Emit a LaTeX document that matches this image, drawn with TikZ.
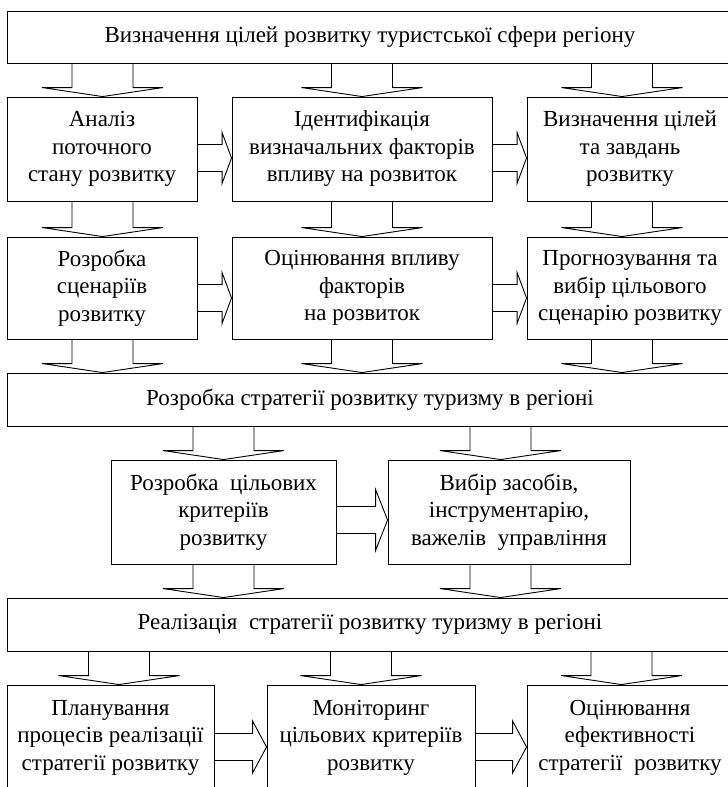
\documentclass[tikz,border=0pt]{standalone}
\usepackage{fontspec}
\setmainfont{Liberation Serif}
\usetikzlibrary{calc}
\tikzset{
  boxnode/.style={draw=black, line width=0.9pt, rectangle, inner sep=0pt, align=center,
    font=\fontsize{23}{27.5}\selectfont},
  blockarrow/.style={draw=black, line width=0.9pt, line join=miter},
}
% #1 name, #2 x1, #3 y1, #4 x2, #5 y2, #6 text
\newcommand\mkbox[6]{%
  \node[boxnode, minimum width={(#4-#2)*1pt}, minimum height={(#5-#3)*1pt}]
    (#1) at ({(#2+#4)/2},{(#3+#5)/2}) {#6};}
% down block arrow: #1 x centre, #2 from node, #3 to node
\newcommand\dnarrow[3]{%
  \draw[blockarrow] let \p1=(#2.south), \p2=(#3.north) in
    ({#1pt-30.5pt},\y1) -- ({#1pt-30.5pt},\y2+9pt) -- ({#1pt-60.5pt},\y2+9pt)
    -- ({#1pt},\y2) -- ({#1pt+60.5pt},\y2+9pt) -- ({#1pt+30.5pt},\y2+9pt)
    -- ({#1pt+30.5pt},\y1);}
% right block arrow: #1 y centre (px from top), #2 from, #3 to, #4 head half, #5 head length
\newcommand\rtarrow[5]{%
  \draw[blockarrow] let \p1=(#2.east), \p2=(#3.west) in
    (\x1,{-#1pt+13.5pt}) -- ({\x2-#5pt},{-#1pt+13.5pt}) -- ({\x2-#5pt},{-#1pt+#4pt})
    -- (\x2,{-#1pt}) -- ({\x2-#5pt},{-#1pt-#4pt}) -- ({\x2-#5pt},{-#1pt-13.5pt})
    -- (\x1,{-#1pt-13.5pt});}
\begin{document}
\begin{tikzpicture}[x=1pt,y=-1pt]
\useasboundingbox (0,0) rectangle (728,787);
\fill[white] (0,0) rectangle (728,787);
\clip (0,0) rectangle (728,787);

\mkbox{top}{7}{11}{733}{63}{Визначення цілей розвитку туристської сфери регіону}
\mkbox{a1}{7}{97}{197}{201}{Аналіз\\поточного\\стану розвитку}
\mkbox{a2}{232}{97}{492}{201}{Ідентифікація\\визначальних факторів\\впливу на розвиток}
\mkbox{a3}{527}{97}{733}{201}{Визначення цілей\\та завдань\\розвитку}
\mkbox{b1}{7}{237}{197}{339}{Розробка\\сценаріїв\\розвитку}
\mkbox{b2}{232}{237}{492}{339}{Оцінювання впливу\\факторів\\на розвиток}
\mkbox{b3}{527}{237}{733}{339}{Прогнозування та\\вибір цільового\\сценарію розвитку}
\mkbox{str}{7}{373}{733}{426}{Розробка стратегії розвитку туризму в регіоні}
\mkbox{c1}{111}{460}{336}{564}{Розробка\ \ цільових\\критеріїв\\розвитку}
\mkbox{c2}{388}{460}{630}{564}{Вибір засобів,\\інструментарію,\\важелів\ \ управління}
\mkbox{real}{7}{598}{733}{651}{Реалізація\ \ стратегії розвитку туризму в регіоні}
\mkbox{d1}{7}{685}{214}{790}{Планування\\процесів реалізації\\стратегії розвитку}
\mkbox{d2}{267}{685}{475}{790}{Моніторинг\\цільових критеріїв\\розвитку}
\mkbox{d3}{527}{685}{733}{790}{Оцінювання\\ефективності\\стратегії\ \ розвитку}

\dnarrow{102.5}{top}{a1}
\dnarrow{362}{top}{a2}
\dnarrow{622}{top}{a3}
\dnarrow{102.5}{a1}{b1}
\dnarrow{362}{a2}{b2}
\dnarrow{622}{a3}{b3}
\dnarrow{102.5}{b1}{str}
\dnarrow{362}{b2}{str}
\dnarrow{622}{b3}{str}
\dnarrow{223.5}{str}{c1}
\dnarrow{500.5}{str}{c2}
\dnarrow{223.5}{c1}{real}
\dnarrow{500.5}{c2}{real}
\dnarrow{119}{real}{d1}
\dnarrow{361}{real}{d2}
\dnarrow{621.5}{real}{d3}

\rtarrow{158}{a1}{a2}{25.5}{9.5}
\rtarrow{158}{a2}{a3}{25.5}{9.5}
\rtarrow{298}{b1}{b2}{25.5}{9.5}
\rtarrow{298}{b2}{b3}{25.5}{9.5}
\rtarrow{520}{c1}{c2}{30.5}{12}
\rtarrow{747}{d1}{d2}{26}{14}
\rtarrow{747}{d2}{d3}{26}{14}
\end{tikzpicture}
\end{document}
